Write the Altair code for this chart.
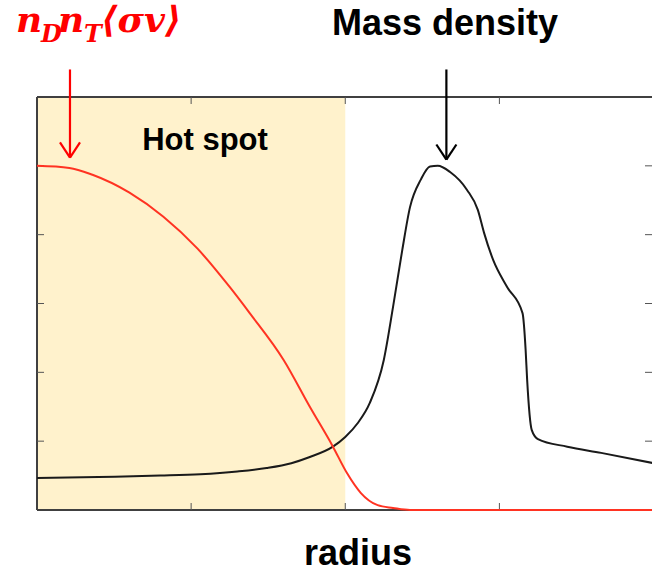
import altair as alt
import pandas as pd

# ---- data ----
radius_mass = [0.0, 0.4, 0.8, 1.06, 1.3, 1.49, 1.65, 1.77, 1.92, 2.0, 2.08, 2.16,
               2.25, 2.31, 2.37, 2.42, 2.49, 2.55, 2.60, 2.68, 2.79, 2.86, 2.90,
               2.96, 3.05, 3.15, 3.17, 3.18, 3.21, 3.25, 3.44, 3.66, 4.0]
mass_density = [0.465, 0.48, 0.50, 0.52, 0.56, 0.61, 0.68, 0.77, 0.92, 1.06, 1.26, 1.56,
                2.18, 2.95, 3.78, 4.40, 4.80, 4.99, 5.00, 4.91, 4.65, 4.36, 4.03,
                3.63, 3.24, 2.86, 2.33, 1.89, 1.16, 1.03, 0.92, 0.83, 0.68]

radius_fusion = [0.0, 0.21, 0.36, 0.6, 0.82, 1.04, 1.25, 1.38, 1.6, 1.77, 1.92,
                 2.01, 2.10, 2.21, 2.31, 2.42, 3.0, 4.0]
fusion_rate = [5.0, 4.97, 4.87, 4.61, 4.26, 3.80, 3.24, 2.86, 2.18, 1.50, 0.92,
               0.54, 0.25, 0.07, 0.03, 0.0, 0.0, 0.0]

hot_spot = [0, 2]
x_domain = [0, 3.99]
y_domain = [0, 6]
x_ticks = [1, 2, 3]
y_ticks = [1, 2, 3, 4, 5]

# annotation arrows (data units): x position, tip height, tail height
arrow_names = ["fusion", "mass"]
arrow_x = [0.214, 2.656]
arrow_tip = [5.12, 5.09]
arrow_tail = [6.40, 6.40]
arrow_colors = ["#FF0000", "#000000"]

W, H = 615, 413
FRAME = "#404040"
TICK = "#555555"

xs = alt.Scale(domain=x_domain, nice=False, zero=False)
ys = alt.Scale(domain=y_domain, nice=False, zero=False)

# ---- tables ----
lines_df = pd.concat([
    pd.DataFrame({"r": radius_mass, "v": mass_density, "series": "Mass density"}),
    pd.DataFrame({"r": radius_fusion, "v": fusion_rate, "series": "Fusion"}),
])
hot_df = pd.DataFrame({"x0": [hot_spot[0]], "x1": [hot_spot[1]],
                       "y0": [y_domain[0]], "y1": [y_domain[1]]})
xt_df = pd.DataFrame({"t": x_ticks})
yt_df = pd.DataFrame({"t": y_ticks})
arrows_df = pd.DataFrame({"name": arrow_names, "x": arrow_x, "tip": arrow_tip,
                          "tail": arrow_tail, "color": arrow_colors})
# frame: left, bottom and top edges of the plot box (the right edge is off-canvas)
frame_df = pd.DataFrame({
    "x0": [x_domain[0], x_domain[0], x_domain[0]],
    "x1": [x_domain[0], x_domain[1] + 0.05, x_domain[1] + 0.05],
    "y0": [y_domain[0], y_domain[0], y_domain[1]],
    "y1": [y_domain[1], y_domain[0], y_domain[1]],
})

# ---- layers ----
hot = alt.Chart(hot_df).mark_rect(color="#FFF2CC").encode(
    x=alt.X("x0:Q", scale=xs, axis=None), x2="x1:Q",
    y=alt.Y("y0:Q", scale=ys, axis=None), y2="y1:Q",
)

frame = alt.Chart(frame_df).mark_rule(color=FRAME, strokeWidth=2).encode(
    x=alt.X("x0:Q", scale=xs, axis=None), x2="x1:Q",
    y=alt.Y("y0:Q", scale=ys, axis=None), y2="y1:Q",
)

curves = alt.Chart(lines_df).mark_line(interpolate="monotone", strokeWidth=2).encode(
    x=alt.X("r:Q", scale=xs, axis=None),
    y=alt.Y("v:Q", scale=ys, axis=None),
    color=alt.Color("series:N", legend=None,
                    scale=alt.Scale(domain=["Mass density", "Fusion"],
                                    range=["#1a1a1a", "#FF3322"])),
    order=alt.Order("r:Q"),
)
black = curves.transform_filter(alt.datum.series == "Mass density")
red = curves.transform_filter(alt.datum.series == "Fusion")

tick_top = alt.Chart(xt_df).mark_rule(color=TICK, strokeWidth=1).encode(
    x=alt.X("t:Q", scale=xs, axis=None),
    y=alt.value(0), y2=alt.value(7),
)
tick_bottom = alt.Chart(xt_df).mark_rule(color=TICK, strokeWidth=1).encode(
    x=alt.X("t:Q", scale=xs, axis=None),
    y=alt.value(H - 7), y2=alt.value(H),
)
tick_left = alt.Chart(yt_df).mark_rule(color=TICK, strokeWidth=1).encode(
    y=alt.Y("t:Q", scale=ys, axis=None),
    x=alt.value(0), x2=alt.value(7),
)
tick_right = alt.Chart(yt_df).mark_rule(color=TICK, strokeWidth=1).encode(
    y=alt.Y("t:Q", scale=ys, axis=None),
    x=alt.value(W - 7), x2=alt.value(W),
)

arrow_color = alt.Color("color:N", scale=None, legend=None)
shafts = alt.Chart(arrows_df).mark_rule(strokeWidth=2.2).encode(
    x=alt.X("x:Q", scale=xs, axis=None),
    y=alt.Y("tail:Q", scale=ys, axis=None),
    y2="tip:Q",
    color=arrow_color,
)
head_left = alt.Chart(arrows_df).transform_calculate(
    hx="datum.x - 0.065", hy="datum.tip + 0.22"
).mark_rule(strokeWidth=2.2).encode(
    x=alt.X("hx:Q", scale=xs, axis=None), x2="x:Q",
    y=alt.Y("hy:Q", scale=ys, axis=None), y2="tip:Q",
    color=arrow_color,
)
head_right = alt.Chart(arrows_df).transform_calculate(
    hx="datum.x + 0.065", hy="datum.tip + 0.22"
).mark_rule(strokeWidth=2.2).encode(
    x=alt.X("hx:Q", scale=xs, axis=None), x2="x:Q",
    y=alt.Y("hy:Q", scale=ys, axis=None), y2="tip:Q",
    color=arrow_color,
)


def label(text, x, y, size, color="#000000", font="Liberation Sans",
          weight="bold", style="normal", align="center"):
    return alt.Chart(pd.DataFrame({"s": [text]})).mark_text(
        font=font, fontSize=size, fontWeight=weight, fontStyle=style,
        color=color, align=align, baseline="alphabetic",
    ).encode(text="s:N", x=alt.value(x), y=alt.value(y))


MATH = "DejaVu Serif"
RED = "#FF0000"
texts = [
    label("Mass density", 408, -62, 36),
    label("Hot spot", 168, 53, 31),
    label("radius", 321, 468, 36),
    label("n", -21, -65, 36, RED, MATH, "bold", "italic", "left"),
    label("D", 4, -55, 24, RED, MATH, "bold", "italic", "left"),
    label("n", 21, -65, 36, RED, MATH, "bold", "italic", "left"),
    label("T", 47, -55, 24, RED, MATH, "bold", "italic", "left"),
    label("⟨σv⟩", 64, -65, 36, RED, MATH, "bold", "italic", "left"),
]

chart = alt.layer(
    hot, frame, tick_top, tick_bottom, tick_left, tick_right, black, red,
    shafts, head_left, head_right, *texts
).properties(
    width=W, height=H,
    padding={"left": 37, "top": 97, "right": 0, "bottom": 60},
    autosize=alt.AutoSizeParams(type="none"),
).configure_view(stroke=None)

chart.save("out.html", embed_options={"renderer": "svg", "actions": False})
